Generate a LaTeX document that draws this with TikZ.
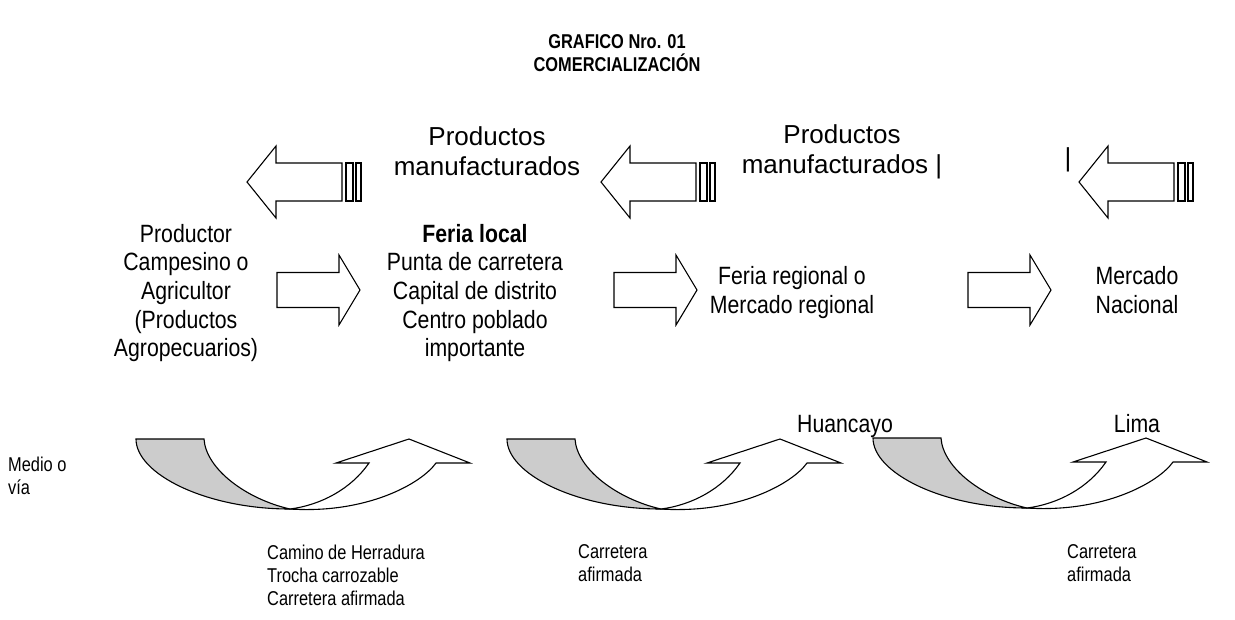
\documentclass[tikz,border=0pt]{standalone}
\usepackage{fontspec}
\setmainfont{Liberation Sans}[FakeStretch=0.82]
\newfontfamily\midfont{Liberation Sans}[FakeStretch=0.85]
\newfontfamily\widefont{Liberation Sans}
\tikzset{
  shp/.style={draw=black, line width=1.1pt, line join=miter, fill=white},
  body/.style={font=\fontsize{20}{23}\selectfont, inner sep=0pt, align=center},
  mid/.style={font=\midfont\fontsize{25}{28.7}\selectfont, inner sep=0pt, align=center, anchor=north},
  bodyl/.style={font=\fontsize{20}{23}\selectfont, inner sep=0pt, align=left, anchor=north west},
  big/.style={font=\widefont\fontsize{26}{30}\selectfont, inner sep=0pt, align=center},
  ttl/.style={font=\bfseries\fontsize{20}{23}\selectfont, inner sep=0pt, align=center},
  leftarr/.pic={
    \draw[shp] (0,0) -- (29,-36) -- (29,-19) -- (95,-19) -- (95,19) -- (29,19) -- (29,36) -- cycle;
    \draw[shp] (99,-19) rectangle (106,19);
    \draw[shp] (109,-19) rectangle (114,19);
  },
  rightarr/.pic={
    \draw[shp] (0,-17.5) -- (62,-17.5) -- (62,-35) -- (83,0) -- (62,35) -- (62,17.5) -- (0,17.5) -- cycle;
  },
  uturn/.pic={
    \draw[shp, fill=gray!40] (0,0) -- (68,0) .. controls (70,30) and (110,60) .. (154,70)
       .. controls (70,70) and (0,35) .. (0,0) -- cycle;
    \draw[shp] (154,70) .. controls (230,75) and (285,45) .. (300,24) -- (334,24) -- (273,0)
       -- (200,24) -- (233,24) .. controls (215,50) and (185,66) .. (154,70) -- cycle;
  }
}
\begin{document}
\begin{tikzpicture}[x=1pt,y=-1pt]
\useasboundingbox (0,0) rectangle (1235,619);
% title
\node[ttl] (title) at (617,53.4) {GRAFICO Nro. 01\\COMERCIALIZACIÓN};
% top labels
\node[big] (prod1) at (487,151.5) {Productos\\manufacturados};
\node[big] (prod2) at (842,151.5) {Productos\\manufacturados |};
\node[big] (bar3) at (1068,160) {|};
% left arrows
\pic at (247,182) {leftarr};
\pic at (601,182) {leftarr};
\pic at (1079,182) {leftarr};
% middle texts
\node[mid] (prodr) at (186,223.8) {Productor\\Campesino o\\Agricultor\\(Productos\\Agropecuarios)};
\node[mid] (feria) at (475,223.8) {\textbf{Feria local}\\Punta de carretera\\Capital de distrito\\Centro poblado\\importante};
\node[mid] (regional) at (792,266.4) {Feria regional o\\Mercado regional};
\node[mid] (nacional) at (1137,266.4) {Mercado\\Nacional};
% right arrows
\pic at (277,290) {rightarr};
\pic at (614,290) {rightarr};
\pic at (968,290) {rightarr};
% u-turn arrows
\pic at (136,439) {uturn};
\pic at (507,439) {uturn};
\begin{scope}[shift={(873,438)}, xscale=1.077]
\pic at (0,0) {uturn};
\end{scope}
% bottom labels
\node[mid, anchor=base] (huancayo) at (845,432) {Huancayo};
\node[mid, anchor=base] (lima) at (1137,432) {Lima};
\node[bodyl] (medio) at (8,456.4) {Medio o\\vía};
\node[bodyl] (camino) at (267,544.4) {Camino de Herradura\\Trocha carrozable\\Carretera afirmada};
\node[bodyl] (carr2) at (578,544.7) {Carretera\\afirmada};
\node[bodyl] (carr3) at (1067,544.7) {Carretera\\afirmada};
\end{tikzpicture}
\end{document}
